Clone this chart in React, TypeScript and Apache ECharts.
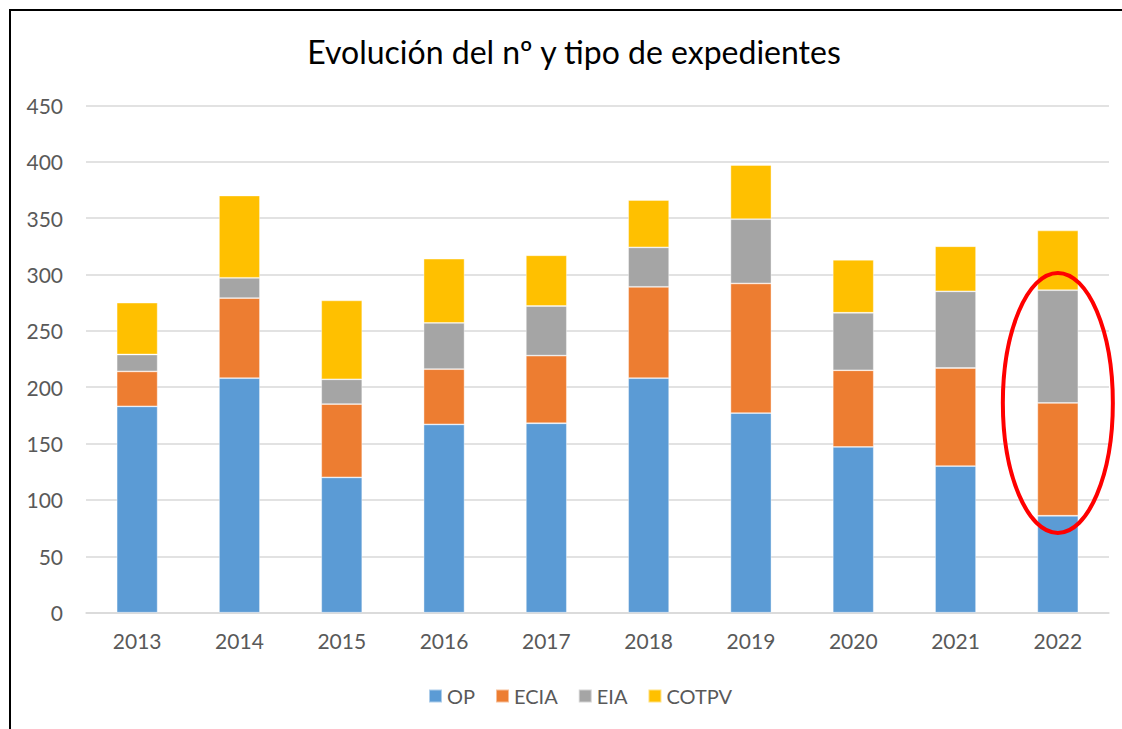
import React, { useEffect, useRef } from "react";
import * as echarts from "echarts";

const years = ["2013", "2014", "2015", "2016", "2017", "2018", "2019", "2020", "2021", "2022"];
const op = [183, 208, 120, 167, 168, 208, 177, 147, 130, 86];
const ecia = [31, 71, 65, 49, 60, 81, 115, 68, 87, 100];
const eia = [15, 18, 22, 41, 44, 35, 57, 51, 68, 100];
const cotpv = [46, 73, 70, 57, 45, 42, 48, 47, 40, 53];
const seriesNames = ["OP", "ECIA", "EIA", "COTPV"];
const seriesColors = ["#5B9BD5", "#ED7D31", "#A5A5A5", "#FFC000"];
const titleText = "Evolución del nº y tipo de expedientes";
const highlightYear = "2022";
const highlightCenterValue = 186;

const FONT = "Lato, 'Open Sans', sans-serif";

export default function App() {
  const ref = useRef<HTMLDivElement>(null);
  useEffect(() => {
    document.body.style.margin = "0";
    if (!ref.current) return;
    const chart = echarts.init(ref.current, null, { renderer: "svg" });
    const data = [op, ecia, eia, cotpv];
    chart.setOption({
      animation: false,
      backgroundColor: "#ffffff",
      textStyle: { fontFamily: FONT },
      grid: { left: 86, right: 13, top: 105.3, bottom: 116.3, containLabel: false },
      legend: {
        data: seriesNames,
        left: 428,
        top: 686,
        padding: 0,
        itemWidth: 13,
        itemHeight: 13,
        itemGap: 20,
        icon: "rect",
        textStyle: { fontFamily: FONT, fontSize: 20, color: "#595959" },
      },
      xAxis: {
        type: "category",
        data: years,
        axisLine: { show: true, lineStyle: { color: "#d9d9d9", width: 1.5 } },
        axisTick: { show: false },
        axisLabel: { color: "#595959", fontFamily: FONT, fontSize: 21, margin: 17 },
      },
      yAxis: {
        type: "value",
        min: 0,
        max: 450,
        interval: 50,
        axisLine: { show: false },
        axisTick: { show: false },
        axisLabel: { color: "#595959", fontFamily: FONT, fontSize: 21, margin: 23 },
        splitLine: { lineStyle: { color: "#d9d9d9", width: 1.5 } },
      },
      series: seriesNames.map((name, i) => ({
        name,
        type: "bar",
        stack: "total",
        barWidth: 41,
        data: data[i],
        itemStyle: { color: seriesColors[i], borderColor: "rgba(255,255,255,0.5)", borderWidth: 0.8 },
      })),
    });
    const c = chart.convertToPixel({ xAxisIndex: 0, yAxisIndex: 0 }, [highlightYear, highlightCenterValue]) as number[];
    chart.setOption({
      graphic: [
        {
          type: "text",
          x: 574,
          y: 51,
          style: {
            text: titleText,
            fontFamily: FONT,
            fontSize: 32,
            fill: "#000000",
            align: "center",
            verticalAlign: "middle",
          },
        },
        {
          type: "ellipse",
          shape: { cx: c[0], cy: c[1], rx: 55, ry: 130 },
          style: { fill: "none", stroke: "#FF0000", lineWidth: 4 },
          z: 100,
        },
        {
          type: "line",
          shape: { x1: 9, y1: 10, x2: 1122, y2: 10 },
          style: { stroke: "#000000", lineWidth: 2 },
        },
        {
          type: "line",
          shape: { x1: 10, y1: 9, x2: 10, y2: 729 },
          style: { stroke: "#000000", lineWidth: 2 },
        },
      ],
    });
    return () => chart.dispose();
  }, []);
  return <div ref={ref} style={{ width: 1122, height: 729, position: "absolute", left: 0, top: 0 }} />;
}
